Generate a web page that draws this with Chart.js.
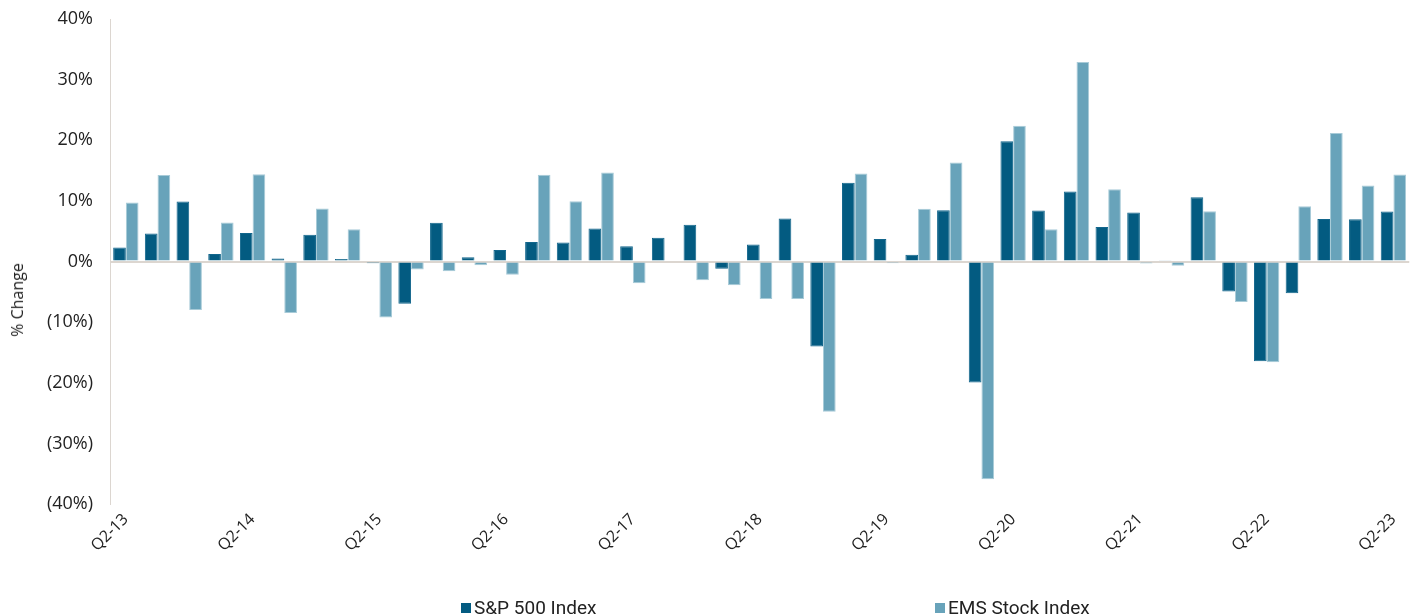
<!DOCTYPE html>
<html>
<head>
<meta charset="utf-8">
<script src="https://cdn.jsdelivr.net/npm/chart.js@4.4.1/dist/chart.umd.min.js"></script>
<style>
  html, body { margin: 0; padding: 0; background: #fff; }
  #wrap { position: relative; width: 1413px; height: 615px; }
  #legend { position: absolute; top: 597px; left: 0; width: 1413px; height: 22px; font-family: Roboto, "Liberation Sans", sans-serif; font-size: 19px; color: #222; }
  .item { position: absolute; top: 0; white-space: nowrap; line-height: 22px; }
  .box { display: inline-block; width: 10px; height: 10px; margin-right: 3px; vertical-align: 1px; }
  #ytitle { position: absolute; left: 17px; top: 300px; transform: translate(-50%, -50%) rotate(-90deg); white-space: nowrap; font-family: "Open Sans", "Noto Sans", sans-serif; font-size: 16px; color: #222; }
</style>
</head>
<body>
<div id="wrap">
  <canvas id="c"></canvas>
  <div id="legend"></div>
  <div id="ytitle"></div>
</div>
<script>
const categories = ['Q2-13','Q3-13','Q4-13','Q1-14','Q2-14','Q3-14','Q4-14','Q1-15','Q2-15','Q3-15','Q4-15','Q1-16','Q2-16','Q3-16','Q4-16','Q1-17','Q2-17','Q3-17','Q4-17','Q1-18','Q2-18','Q3-18','Q4-18','Q1-19','Q2-19','Q3-19','Q4-19','Q1-20','Q2-20','Q3-20','Q4-20','Q1-21','Q2-21','Q3-21','Q4-21','Q1-22','Q2-22','Q3-22','Q4-22','Q1-23','Q2-23'];
const shownTicks = ['Q2-13','Q2-14','Q2-15','Q2-16','Q2-17','Q2-18','Q2-19','Q2-20','Q2-21','Q2-22','Q2-23'];
const sp500 = [2.3, 4.6, 9.9, 1.25, 4.7, 0.5, 4.4, 0.4, -0.3, -6.95, 6.4, 0.7, 1.9, 3.2, 3.15, 5.45, 2.5, 3.9, 6.05, -1.2, 2.8, 7.1, -14.0, 13.0, 3.7, 1.1, 8.45, -19.95, 19.85, 8.4, 11.55, 5.7, 8.1, 0.2, 10.6, -4.95, -16.45, -5.25, 7.0, 6.95, 8.25];
const ems = [9.75, 14.25, -8.0, 6.45, 14.4, -8.5, 8.75, 5.3, -9.25, -1.3, -1.6, -0.6, -2.2, 14.3, 9.95, 14.7, -3.6, 0, -3.1, -3.9, -6.2, -6.2, -24.8, 14.5, -0.3, 8.7, 16.35, -35.9, 22.4, 5.3, 32.9, 11.9, -0.35, -0.7, 8.3, -6.7, -16.6, 9.1, 21.2, 12.55, 14.35];
const yTicks = [-40, -30, -20, -10, 0, 10, 20, 30, 40];
const seriesNames = ['S&P 500 Index', 'EMS Stock Index'];
const yTitle = '% Change';
const colors = ['#035b81', '#68a3ba'];
const borders = ['#12668c', '#a8cbd8'];

const font = '"Open Sans", "Noto Sans", sans-serif';

const ctx = document.getElementById('c');
new Chart(ctx, {
  type: 'bar',
  data: {
    labels: categories,
    datasets: [
      { label: seriesNames[0], data: sp500, backgroundColor: colors[0], borderColor: borders[0], borderWidth: 1, categoryPercentage: 0.8, barPercentage: 1.0 },
      { label: seriesNames[1], data: ems, backgroundColor: colors[1], borderColor: borders[1], borderWidth: 1, categoryPercentage: 0.8, barPercentage: 1.0 }
    ]
  },
  options: {
    responsive: true,
    maintainAspectRatio: false,
    animation: false,
    layout: { padding: { top: 0, right: 2, left: 0, bottom: 0 } },
    plugins: { legend: { display: false }, tooltip: { enabled: false } },
    scales: {
      x: {
        grid: { display: false, drawTicks: false },
        border: { display: false },
        ticks: {
          autoSkip: false,
          maxRotation: 45,
          minRotation: 45,
          padding: 6,
          color: '#222',
          font: { family: font, size: 16 },
          callback: function(v, i) { const l = categories[i]; return shownTicks.includes(l) ? l : ''; }
        },
        afterFit: function(s) { s.height = 111; }
      },
      y: {
        min: yTicks[0],
        max: yTicks[yTicks.length - 1],
        afterBuildTicks: function(s) { s.ticks = yTicks.map(v => ({ value: v })); },
        grid: {
          drawTicks: false,
          color: function(c) { return c.tick && c.tick.value === 0 ? '#dcd6d0' : 'rgba(0,0,0,0)'; },
          lineWidth: 2
        },
        border: { display: true, color: '#dcd6d0', width: 1 },
        ticks: {
          padding: 17,
          color: '#222',
          font: { family: font, size: 18 },
          callback: function(v) { return v < 0 ? '(' + (-v) + '%)' : v + '%'; }
        },
        afterFit: function(s) { s.width = 110; s.paddingTop = 19; s.paddingBottom = 0; }
      }
    }
  }
});

document.getElementById('ytitle').textContent = yTitle;
const legend = document.getElementById('legend');
const legendLeft = [461, 935];
seriesNames.forEach((n, i) => {
  const d = document.createElement('div');
  d.className = 'item';
  d.style.left = legendLeft[i] + 'px';
  const b = document.createElement('span');
  b.className = 'box';
  b.style.background = colors[i];
  d.appendChild(b);
  d.appendChild(document.createTextNode(n));
  legend.appendChild(d);
});
</script>
</body>
</html>
